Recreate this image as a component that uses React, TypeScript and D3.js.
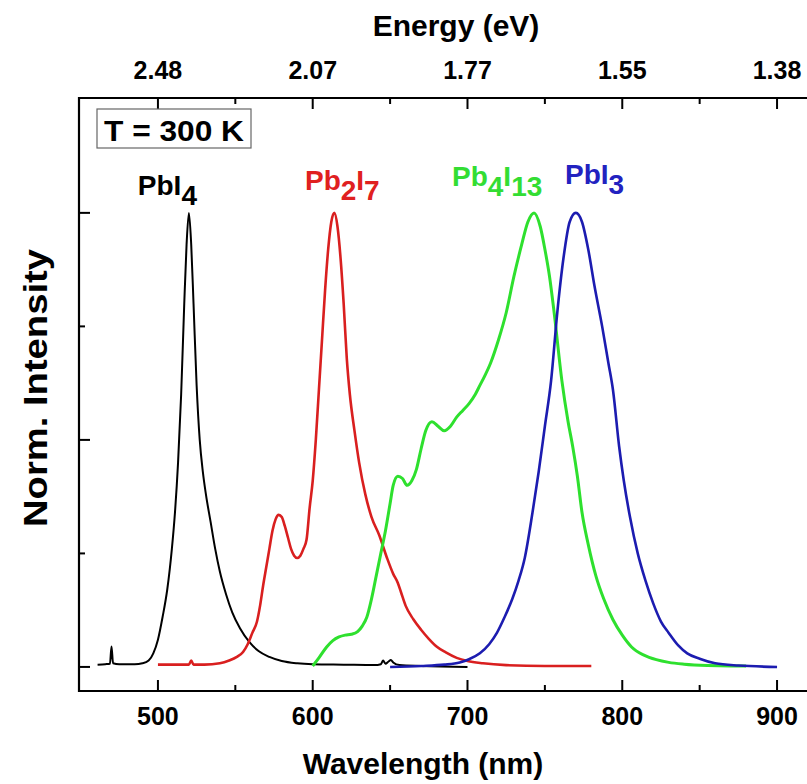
import React from 'react'
import * as d3 from 'd3'

const width = 807
const height = 784
const frame = { left: 79, right: 808, top: 98, bottom: 691 }

// axes
const wavelengthDomain = [449, 920]
const intensityDomain = [-0.053, 1.253]
const wavelengthTicks = [500, 600, 700, 800, 900]
const wavelengthMinorTicks = [550, 650, 750, 850]
const energyTickLabels = ['2.48', '2.07', '1.77', '1.55', '1.38']
const intensityTicks = [0, 0.5, 1]
const intensityMinorTicks = [0.25, 0.75]

// PbI4 (black)
const pbi4Wl = [461, 466, 469, 470, 471, 475, 480, 485, 490, 494, 497, 500, 503, 506, 509, 511, 513, 515, 517, 518.5, 520, 521.5, 523, 525, 527, 529, 531, 534, 537, 540, 544, 548, 553, 559, 565, 572, 580, 590, 600, 620, 640, 644, 645.5, 647, 649, 650.5, 652, 656, 670, 700]
const pbi4Int = [0.005, 0.006, 0.007, 0.045, 0.008, 0.006, 0.006, 0.006, 0.008, 0.014, 0.03, 0.06, 0.11, 0.17, 0.26, 0.34, 0.45, 0.6, 0.8, 0.93, 1.0, 0.93, 0.8, 0.62, 0.5, 0.43, 0.38, 0.32, 0.26, 0.21, 0.16, 0.12, 0.085, 0.055, 0.035, 0.022, 0.013, 0.008, 0.006, 0.005, 0.004, 0.006, 0.014, 0.007, 0.012, 0.015, 0.01, 0.004, 0.002, 0.0]

// Pb2I7 (red)
const pb2i7Wl = [500, 510, 520, 521.5, 523, 530, 540, 546, 551, 555, 558, 561, 564, 566, 568, 570, 572, 574, 576, 578, 580, 582, 584, 586, 588, 590, 592, 594, 596, 598, 600, 602, 604, 606, 608, 610, 612, 614, 616, 618, 620, 622, 624, 627, 630, 634, 638, 643, 648, 652, 655, 657, 660, 665, 670, 675, 680, 686, 693, 700, 710, 725, 750, 780]
const pb2i7Int = [0.005, 0.005, 0.005, 0.014, 0.005, 0.005, 0.008, 0.014, 0.022, 0.033, 0.05, 0.075, 0.1, 0.135, 0.18, 0.22, 0.26, 0.3, 0.325, 0.335, 0.33, 0.31, 0.285, 0.26, 0.245, 0.24, 0.245, 0.26, 0.28, 0.35, 0.41, 0.5, 0.61, 0.72, 0.83, 0.92, 0.98, 1.0, 0.97, 0.9, 0.8, 0.68, 0.6, 0.52, 0.45, 0.38, 0.33, 0.29, 0.24, 0.205, 0.185, 0.165, 0.135, 0.105, 0.082, 0.062, 0.045, 0.032, 0.02, 0.013, 0.008, 0.004, 0.002, 0.002]

// Pb4I13 (green)
const pb4i13Wl = [600, 604, 609, 613, 617, 621, 625, 629, 632, 635, 638, 641, 644, 647, 650, 652, 655, 658, 661, 664, 667, 670, 673, 677, 681, 685, 689, 693, 697, 701, 705, 708, 711, 715, 720, 725, 730, 735, 739, 743, 747, 750, 753, 756, 761, 765, 768, 771, 774, 778, 783, 788, 794, 800, 806, 814, 822, 830, 840, 855, 870, 880]
const pb4i13Int = [0.002, 0.02, 0.044, 0.058, 0.066, 0.07, 0.072, 0.078, 0.09, 0.11, 0.15, 0.2, 0.25, 0.3, 0.36, 0.4, 0.42, 0.415, 0.4, 0.41, 0.435, 0.48, 0.52, 0.54, 0.53, 0.52, 0.53, 0.55, 0.565, 0.58, 0.6, 0.62, 0.64, 0.67, 0.72, 0.78, 0.86, 0.93, 0.98, 1.0, 0.97, 0.92, 0.86, 0.78, 0.63, 0.54, 0.485, 0.42, 0.34, 0.27, 0.2, 0.15, 0.104, 0.07, 0.044, 0.026, 0.016, 0.01, 0.006, 0.003, 0.002, 0.002]

// PbI3 (blue)
const pbi3Wl = [650, 670, 685, 695, 701, 708, 714, 719, 724, 729, 733, 737, 742, 746, 750, 754, 758, 762, 766, 770, 774, 778, 782, 787, 791, 794, 798, 801, 805, 810, 815, 820, 825, 830, 836, 842, 850, 860, 875, 900]
const pbi3Int = [0.0, 0.002, 0.005, 0.01, 0.017, 0.03, 0.05, 0.075, 0.11, 0.15, 0.19, 0.24, 0.34, 0.43, 0.53, 0.63, 0.78, 0.9, 0.98, 1.0, 0.98, 0.92, 0.84, 0.75, 0.67, 0.61, 0.485, 0.41, 0.33, 0.25, 0.19, 0.14, 0.1, 0.075, 0.048, 0.03, 0.018, 0.008, 0.003, 0.0]

const series = [
  { wl: pbi4Wl, int: pbi4Int, color: '#000000', lw: 2 },
  { wl: pb2i7Wl, int: pb2i7Int, color: '#d91f1f', lw: 2.6 },
  { wl: pb4i13Wl, int: pb4i13Int, color: '#2ee02e', lw: 3 },
  { wl: pbi3Wl, int: pbi3Int, color: '#1c1cb0', lw: 2.6 },
]

// curve labels: [text, isSubscript] pieces, wavelength where the label starts
const labelParts = [
  [['PbI', false], ['4', true]],
  [['Pb', false], ['2', true], ['I', false], ['7', true]],
  [['Pb', false], ['4', true], ['I', false], ['13', true]],
  [['PbI', false], ['3', true]],
]
const labelWl = [487, 595, 690, 763]
const labelValue = [1.04, 1.051, 1.06, 1.064]
const labelColors = ['#000000', '#e02020', '#33dd33', '#2222c0']

const boldFont = "'Liberation Sans', Arial, Helvetica, sans-serif"

export default function App() {
  const x = d3.scaleLinear().domain(wavelengthDomain).range([frame.left, frame.right])
  const y = d3.scaleLinear().domain(intensityDomain).range([frame.bottom, frame.top])

  const line = d3.line<[number, number]>()
    .x(d => x(d[0]))
    .y(d => y(d[1]))
    .curve(d3.curveMonotoneX)

  return (
    <svg width={width} height={height} style={{ position: 'absolute', left: 0, top: 0, background: '#fff' }}>
      <defs>
        <clipPath id="plot">
          <rect x={frame.left} y={frame.top} width={frame.right - frame.left} height={frame.bottom - frame.top} />
        </clipPath>
      </defs>

      {/* curves */}
      <g clipPath="url(#plot)">
        {series.map((s, i) => (
          <path key={i}
            d={line(s.wl.map((w, j) => [w, s.int[j]] as [number, number])) || ''}
            fill="none" stroke={s.color} strokeWidth={s.lw} strokeLinejoin="round" />
        ))}
      </g>

      {/* frame */}
      <path d={`M${frame.right},${frame.top}H${frame.left}V${frame.bottom}H${frame.right}`}
        fill="none" stroke="#000" strokeWidth={2.2} />

      {/* bottom ticks */}
      {wavelengthTicks.map(t => (
        <g key={'b' + t}>
          <line x1={x(t)} x2={x(t)} y1={frame.bottom} y2={frame.bottom - 11} stroke="#000" strokeWidth={2} />
          <text x={x(t)} y={725} textAnchor="middle" fontFamily={boldFont} fontWeight="bold" fontSize={25}>{t}</text>
        </g>
      ))}
      {wavelengthMinorTicks.map(t => (
        <line key={'bm' + t} x1={x(t)} x2={x(t)} y1={frame.bottom} y2={frame.bottom - 6} stroke="#000" strokeWidth={2} />
      ))}

      {/* top (energy) ticks */}
      {wavelengthTicks.map((t, i) => (
        <g key={'t' + t}>
          <line x1={x(t)} x2={x(t)} y1={frame.top} y2={frame.top + 11} stroke="#000" strokeWidth={2} />
          <text x={x(t)} y={79} textAnchor="middle" fontFamily={boldFont} fontWeight="bold" fontSize={25}>{energyTickLabels[i]}</text>
        </g>
      ))}
      {wavelengthMinorTicks.map(t => (
        <line key={'tm' + t} x1={x(t)} x2={x(t)} y1={frame.top} y2={frame.top + 6} stroke="#000" strokeWidth={2} />
      ))}

      {/* left ticks */}
      {intensityTicks.map(t => (
        <line key={'l' + t} x1={frame.left} x2={frame.left + 11} y1={y(t)} y2={y(t)} stroke="#000" strokeWidth={2} />
      ))}
      {intensityMinorTicks.map(t => (
        <line key={'lm' + t} x1={frame.left} x2={frame.left + 6} y1={y(t)} y2={y(t)} stroke="#000" strokeWidth={2} />
      ))}

      {/* axis titles */}
      <text x={456} y={36} textAnchor="middle" fontFamily={boldFont} fontWeight="bold" fontSize={30}>Energy (eV)</text>
      <text x={423} y={774} textAnchor="middle" fontFamily={boldFont} fontWeight="bold" fontSize={30}>Wavelength (nm)</text>
      <text transform="translate(47,388) rotate(-90)" textAnchor="middle" fontFamily={boldFont} fontWeight="bold" fontSize={33}
        textLength={278} lengthAdjust="spacingAndGlyphs">Norm. Intensity</text>

      {/* temperature box */}
      <rect x={97} y={109} width={154} height={39} fill="#fff" stroke="#666" strokeWidth={1.2} />
      <text x={174} y={141} textAnchor="middle" fontFamily={boldFont} fontWeight="bold" fontSize={29}
        textLength={140} lengthAdjust="spacingAndGlyphs">T = 300 K</text>

      {/* curve labels */}
      {labelParts.map((parts, i) => (
        <text key={'lab' + i} x={x(labelWl[i])} y={y(labelValue[i])} fill={labelColors[i]}
          fontFamily={boldFont} fontWeight="bold" fontSize={28}>
          {parts.map(([txt, sub], k) => {
            const prevSub = k > 0 && parts[k - 1][1]
            const dy = sub && !prevSub ? 10 : !sub && prevSub ? -10 : 0
            return <tspan key={k} dy={dy}>{txt as string}</tspan>
          })}
        </text>
      ))}
    </svg>
  )
}
